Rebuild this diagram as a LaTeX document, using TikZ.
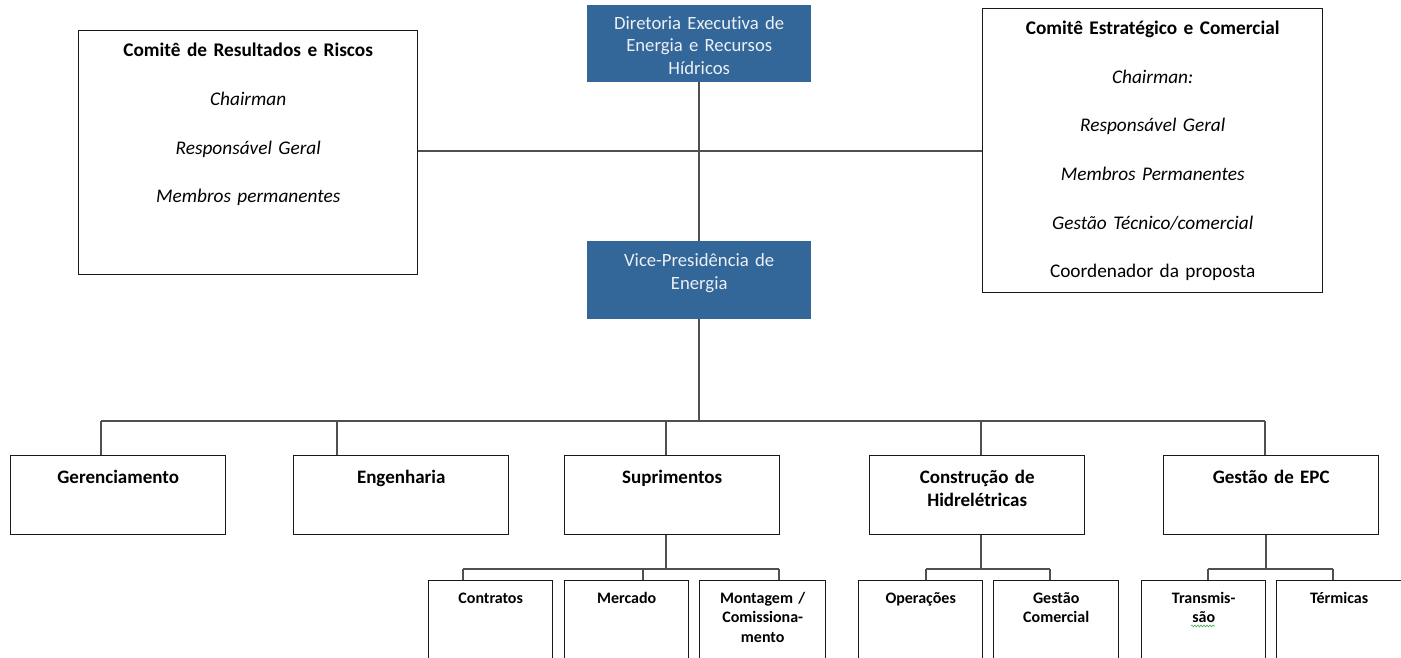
\documentclass[tikz,border=0pt]{standalone}
\usepackage{fontspec}
\setmainfont{Carlito}[Ligatures=CommonOff]
\usetikzlibrary{decorations.pathmorphing}
\definecolor{execblue}{RGB}{51,102,153}
\definecolor{exectext}{RGB}{236,240,245}
\definecolor{linkgray}{RGB}{80,80,80}
\definecolor{boxline}{RGB}{25,25,25}
\definecolor{spellgreen}{RGB}{70,170,70}

\begin{document}
\begin{tikzpicture}[x=1pt,y=-1pt,
  frame/.style={draw=boxline, line width=1.4pt, fill=white, inner sep=0pt, anchor=north west},
  execbox/.style={fill=execblue, inner sep=0pt, anchor=north west},
  link/.style={draw=linkgray, line width=1.6pt},
  boxtext/.style={inner sep=0pt, anchor=base, align=center, text width=#1},
  boxtext/.default=300pt,
  execfont/.style={font=\fontsize{18.7}{22.5}\selectfont, text=exectext},
  unitfont/.style={font=\fontsize{19}{23}\selectfont\bfseries},
  subfont/.style={font=\fontsize{16}{19.5}\selectfont\bfseries},
  boardfont/.style={font=\fontsize{19.3}{48.6}\selectfont},
]
\useasboundingbox (0,0) rectangle (1401,658);
\clip (0,0) rectangle (1401,658);

% executive boxes
\node[execbox, minimum width=224pt, minimum height=77pt] (dir) at (587,5) {};
\node[execbox, minimum width=224pt, minimum height=78pt] (vp) at (587,241) {};
\node[boxtext=220pt, execfont] (dir-t) at ([yshift=-24.5pt]dir.north)
  {Diretoria Executiva de\\Energia e Recursos\\Hídricos};
\node[boxtext=220pt, execfont] (vp-t) at ([yshift=-25.7pt]vp.north)
  {Vice-Presidência de\\Energia};

% committees
\node[frame, minimum width=339pt, minimum height=244pt] (crs) at (78,30) {};
\node[frame, minimum width=340pt, minimum height=284pt] (ces) at (982,8) {};
\node[boxtext, boardfont] (crs-t) at ([yshift=-27pt]crs.north)
  {\textbf{Comitê de Resultados e Riscos}\\\textit{Chairman}\\\textit{Responsável Geral}\\\textit{Membros permanentes}};
\node[boxtext, font=\fontsize{19.3}{48.7}\selectfont] (ces-t) at ([yshift=-26.5pt]ces.north)
  {\textbf{Comitê Estratégico e Comercial}\\\textit{Chairman:}\\\textit{Responsável Geral}\\\textit{Membros Permanentes}\\\textit{Gestão Técnico/comercial}\\Coordenador da proposta};

% departments
\foreach \n/\x in {gr/10, eng/293, sup/564, con/869, epc/1163}
  \node[frame, minimum width=215pt, minimum height=79pt] (\n) at (\x,455) {};
\node[boxtext=205pt, unitfont] (gr-t) at ([yshift=-28pt]gr.north) {Gerenciamento};
\node[boxtext=205pt, unitfont] (eng-t) at ([yshift=-28pt]eng.north) {Engenharia};
\node[boxtext=205pt, unitfont] (sup-t) at ([yshift=-28pt]sup.north) {Suprimentos};
\node[boxtext=205pt, unitfont] (con-t) at ([yshift=-28pt]con.north) {Construção de\\Hidrelétricas};
\node[boxtext=205pt, unitfont] (epc-t) at ([yshift=-28pt]epc.north) {Gestão de EPC};

% sub-units
\foreach \n/\x/\w in {ctr/428/124, mer/564/124, mon/699/126, ope/858/124, gco/993/125, tra/1141/124, ter/1276/125}
  \node[frame, minimum width=\w pt, minimum height=92pt] (\n) at (\x,580) {};
\node[boxtext=118pt, subfont] (ctr-t) at ([yshift=-23.3pt]ctr.north) {Contratos};
\node[boxtext=118pt, subfont] (mer-t) at ([yshift=-23.3pt]mer.north) {Mercado};
\node[boxtext=120pt, subfont] (mon-t) at ([yshift=-23.3pt]mon.north) {Montagem /\\Comissiona-\\mento};
\node[boxtext=118pt, subfont] (ope-t) at ([yshift=-23.3pt]ope.north) {Operações};
\node[boxtext=118pt, subfont] (gco-t) at ([yshift=-23.3pt]gco.north) {Gestão\\Comercial};
\node[boxtext=118pt, subfont] (tra-t) at ([yshift=-23.3pt]tra.north) {Transmis-\\são};
\node[boxtext=118pt, subfont] (ter-t) at ([yshift=-23.3pt]ter.north) {Térmicas};
\draw[spellgreen, line width=0.6pt, decorate,
      decoration={snake, amplitude=0.9pt, segment length=3pt}] (1191,626) -- (1215,626);

% top links
\coordinate (hub) at (698,151);
\draw[link] (dir.south) -- (vp.north);
\draw[link] (crs.east |- hub) -- (ces.west |- hub);

% department bus
\coordinate (bus) at (698,421);
\draw[link] (vp.south) -- (vp.south |- bus);
\coordinate (b1) at (101,421);
\coordinate (b2) at (337,421);
\coordinate (b3) at (666,421);
\coordinate (b4) at (981,421);
\coordinate (b5) at (1265,421);
\draw[link] (b1) -- (b5);
\foreach \c/\n in {b1/gr, b2/eng, b3/sup, b4/con, b5/epc}
  \draw[link] (\c) -- (\c |- \n.north);

% sub-unit buses
\coordinate (s0) at (666,569);
\coordinate (s1) at (463,569);
\coordinate (s2) at (643,569);
\coordinate (s3) at (779,569);
\draw[link] (s0 |- sup.south) -- (s0);
\draw[link] (s1) -- (s3);
\foreach \c/\n in {s1/ctr, s2/mer, s3/mon}
  \draw[link] (\c) -- (\c |- \n.north);

\coordinate (c0) at (981,569);
\coordinate (c1) at (926,569);
\coordinate (c2) at (1050,569);
\draw[link] (c0 |- con.south) -- (c0);
\draw[link] (c1) -- (c2);
\foreach \c/\n in {c1/ope, c2/gco}
  \draw[link] (\c) -- (\c |- \n.north);

\coordinate (e0) at (1266,569);
\coordinate (e1) at (1208,569);
\coordinate (e2) at (1333,569);
\draw[link] (e0 |- epc.south) -- (e0);
\draw[link] (e1) -- (e2);
\foreach \c/\n in {e1/tra, e2/ter}
  \draw[link] (\c) -- (\c |- \n.north);
\end{tikzpicture}
\end{document}
